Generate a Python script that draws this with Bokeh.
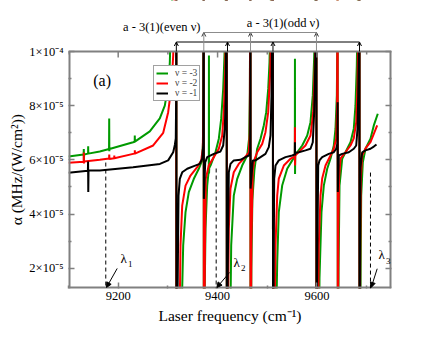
from bokeh.plotting import figure
from bokeh.models import (Range1d, FixedTicker, LinearAxis, Legend, LegendItem,
                          Label, Arrow, OpenHead, NormalHead)
from bokeh.embed import file_html
from bokeh.resources import INLINE

FONT = "Liberation Serif"

# ---- data: (laser frequency cm^-1, alpha in units of 1e-5 MHz/(W/cm^2)) ----
# values of +15 / -5 stand for the off-scale branches at each resonance
green_pts = [(9100, 6.12), (9130.5, 6.2), (9130.8, 6.4), (9131.1, 5.98), (9131.4, 6.2),
             (9139.4, 6.23), (9139.6, 6.5), (9139.8, 6.23), (9163, 6.31),
             (9181.6, 6.4), (9181.9, 7.53), (9182.2, 6.32), (9182.5, 6.4),
             (9230, 6.65), (9233.2, 6.67), (9233.4, 6.9), (9233.6, 6.67),
             (9263.6, 7.05), (9283.7, 7.53), (9293.8, 8.0), (9300.6, 8.74), (9303.9, 9.6),
             (9306, 11), (9316.9, 15), (9317.1, -5), (9326, -1), (9330.8, 2.84),
             (9335.5, 4.07), (9342.1, 4.81), (9352.2, 5.3), (9362.2, 5.67), (9369, 5.98),
             (9371, 6.8), (9372.1, 15), (9372.3, -5), (9374, 1.0), (9375.7, 3.46),
             (9379.1, 5.05), (9382.4, 5.65), (9382.6, 9.85), (9382.8, 5.5), (9383.2, 5.7),
             (9385.8, 5.79), (9395.8, 6.28), (9402.5, 6.78), (9407.3, 7.52), (9411.3, 8.62),
             (9413.9, 9.85), (9415.5, 11), (9418.4, 15), (9418.7, -5), (9425, -1),
             (9427.4, 2.84), (9432.6, 4.68), (9439.5, 5.3), (9449.5, 5.79), (9459.6, 6.16),
             (9463.5, 6.8), (9465, 8.5), (9466.1, 15), (9466.3, -5), (9468, 2.0),
             (9470, 4.5), (9474, 5.6), (9479.7, 6.41), (9486.4, 6.78), (9493, 7.27),
             (9497.9, 7.76), (9501.9, 8.62), (9504.5, 9.6), (9506, 11), (9511.3, 15),
             (9511.6, -5), (9517, -1), (9520, 2.22), (9523.2, 4.07), (9530, 5.05),
             (9540.1, 5.67), (9550.2, 5.98), (9555.5, 6.15), (9555.7, 9.73), (9555.9, 5.48),
             (9556.3, 6.2), (9560.2, 6.28), (9570.3, 6.53), (9580.4, 6.9), (9587, 7.39),
             (9591.6, 8.38), (9594.4, 9.8), (9596, 11), (9598.9, 15), (9599.1, -5),
             (9604, -1), (9605.1, 1.62), (9609.1, 4.07), (9613.8, 5.05), (9620.6, 5.67),
             (9627.2, 6.04), (9633.9, 6.53), (9637.3, 7.15), (9640, 8.38), (9641, 10.5),
             (9641.7, 15), (9641.9, -5), (9643.5, 2.0), (9645.4, 5.05), (9650.8, 6.04),
             (9660.9, 6.41), (9667.5, 6.65), (9674.1, 7.15), (9677.5, 8.0), (9680.2, 9.48),
             (9681.5, 11), (9685.5, 15), (9685.7, -5), (9688, 2.0), (9689, 4.68),
             (9692.3, 5.91), (9697.7, 6.41), (9707.7, 6.78), (9714.4, 7.27), (9722.4, 7.7)]

red_pts = [(9100, 5.89), (9130.5, 5.93), (9130.8, 6.27), (9131.1, 5.87), (9131.4, 5.94),
           (9163, 6.0), (9181.7, 6.05), (9182.0, 6.2), (9182.3, 6.03), (9192, 6.06),
           (9192.2, 6.16), (9192.4, 6.06), (9230, 6.22), (9233.3, 6.23), (9233.5, 6.35),
           (9233.7, 6.23), (9270.4, 6.53), (9290.6, 7.0), (9300.6, 7.76), (9307.3, 8.74),
           (9310.7, 9.85), (9313.5, 12), (9316.9, 15), (9317.1, -5), (9324, 0.8),
           (9325.4, 2.84), (9328.8, 4.31), (9335.5, 5.05), (9345.5, 5.42), (9359, 5.73),
           (9367, 5.98), (9370.3, 6.41), (9371.5, 8.0), (9372.1, 15), (9372.3, -5),
           (9374.5, 2.5), (9376.3, 5.3), (9382.3, 5.79), (9392.4, 6.1), (9402.5, 6.41),
           (9409.3, 6.9), (9412.5, 7.76), (9415.3, 9.24), (9417, 12), (9418.4, 15),
           (9418.7, -5), (9421, 0.5), (9422.6, 3.46), (9426, 4.94), (9432.6, 5.54),
           (9442.6, 5.85), (9452.8, 6.04), (9462.8, 6.28), (9464.8, 7.0), (9466.1, 15),
           (9466.3, -5), (9468, 3.0), (9470.9, 5.6), (9474, 6.0), (9479.7, 6.28),
           (9489.8, 6.59), (9496.4, 7.02), (9501.9, 7.76), (9505.9, 9.24), (9507.5, 11),
           (9511.3, 15), (9511.6, -5), (9514, -1), (9516.6, 2.84), (9520, 4.68),
           (9523.2, 5.31), (9533.3, 5.79), (9546.7, 6.04), (9555.5, 6.12), (9555.7, 7.2),
           (9555.9, 5.79), (9556.3, 6.16), (9566.8, 6.35), (9576.9, 6.53), (9587, 6.9),
           (9592.5, 7.76), (9595.7, 9.5), (9597.3, 11), (9598.9, 15), (9599.1, -5),
           (9602, -1), (9603.7, 2.84), (9607.1, 4.68), (9610.5, 5.31), (9617.2, 5.79),
           (9627.2, 6.16), (9633.9, 6.41), (9638.7, 6.79), (9640.5, 8.0), (9641.7, 15),
           (9641.9, -5), (9643, 3.5), (9644.5, 5.31), (9647.4, 6.05), (9657.4, 6.28),
           (9667.5, 6.53), (9674.1, 6.79), (9679, 7.39), (9681.6, 8.74), (9683.2, 11),
           (9685.5, 15), (9685.7, -5), (9687, 2.0), (9688.3, 5.31), (9691, 6.16),
           (9697.7, 6.42), (9707.7, 6.65), (9714.4, 6.96), (9721.2, 7.27)]

black_pts = [(9100, 5.52), (9139.0, 5.60), (9139.4, 5.94), (9139.8, 4.81), (9140.3, 5.61),
             (9163, 5.61), (9230, 5.73), (9284, 5.85), (9300.6, 5.98), (9310.7, 6.28),
             (9314, 6.55), (9315.9, 6.79), (9316.8, 8.5), (9317.1, 15), (9317.3, -5),
             (9319.5, 1.0), (9321.4, 4.68), (9324, 5.3), (9328.8, 5.54), (9338.9, 5.67),
             (9352.2, 5.77), (9364.2, 5.85), (9369, 6.04), (9371.1, 6.53), (9372.2, 15),
             (9372.4, 4.56), (9375.1, 5.91), (9379.1, 6.1), (9392.4, 6.22), (9405.9, 6.31),
             (9411.3, 6.53), (9414.5, 7.15), (9416.5, 8.38), (9418.3, 15), (9418.6, -5),
             (9420.5, 2.0), (9422.6, 5.54), (9426, 5.85), (9432.6, 5.98), (9446, 6.0),
             (9456, 6.1), (9463, 6.16), (9465.6, 6.3), (9466.2, 15), (9466.4, 4.94),
             (9470.9, 5.98), (9476.3, 5.98), (9486.4, 6.1), (9496.4, 6.22), (9503.1, 6.47),
             (9506.5, 6.9), (9508.5, 8.38), (9511.3, 15), (9511.6, -5), (9512.8, 1.5),
             (9513.9, 5.31), (9516.6, 5.79), (9523.2, 5.98), (9536.7, 6.1), (9550.2, 6.16),
             (9555.5, 6.2), (9555.7, 6.65), (9555.9, 6.16), (9556.3, 6.25), (9563.4, 6.28),
             (9576.9, 6.35), (9587, 6.41), (9591.6, 6.65), (9594.4, 7.76), (9596.5, 9.5),
             (9598.9, 15), (9599.1, -5), (9600.5, 2.0), (9602.5, 5.79), (9605.1, 5.98),
             (9610.5, 6.1), (9623.8, 6.22), (9633.9, 6.28), (9638.7, 6.41), (9641.2, 6.6),
             (9641.6, 8.13), (9642.0, 4.81), (9644, 6.16), (9650.8, 6.22), (9664.1, 6.28),
             (9674.1, 6.41), (9679, 6.53), (9681.6, 7.15), (9683, 8.38), (9684.5, 10.5),
             (9685.5, 15), (9685.7, -5), (9686.5, 2.5), (9687.6, 5.7), (9691, 6.28),
             (9697.7, 6.35), (9707.7, 6.41), (9714.4, 6.49), (9719.8, 6.57)]

series_labels = ["\u03bd = -3", "\u03bd = -2", "\u03bd = -1"]
series_colors = ["#009a00", "#ff0000", "#000000"]

# resonance markers at the top: a - 3(1) even v / odd v
even_v_lines = [9317, 9420, 9511.5, 9685.6]
odd_v_lines = [9372.3, 9466.3, 9599]
even_v_label = "a - 3(1)(even \u03bd)"
odd_v_label = "a - 3(1)(odd \u03bd)"

# lambda markers (dashed lines)
lam_freq = [9175, 9397.2, 9707.7]
lam_top = [5.9, 5.68, 5.53]
lam_names = ["1", "2", "3"]

x_major = [9200, 9400, 9600]
x_minor = [9100, 9300, 9500, 9700]
y_major = [2, 4, 6, 8, 10]
y_minor = [3, 5, 7, 9]
y_tick_labels = ["2\u00d710\u207b\u2075", "4\u00d710\u207b\u2075", "6\u00d710\u207b\u2075",
                 "8\u00d710\u207b\u2075", "1\u00d710\u207b\u2074"]

X0, X1 = 9100, 9750
Y0, Y1 = 1.25, 10

W, H = 424, 332
LEFT, RIGHT, BOTTOM = 68, 33, 44
AXES_H = 237            # height of the boxed axes area in px
TOP_STRIP = 51          # px above the box used for the resonance brackets
PX = (Y1 - Y0) / AXES_H  # data units per px
Y_TOP = Y1 + TOP_STRIP * PX
EDGE = "#808080"

p = figure(width=W, height=H, output_backend="svg", toolbar_location=None,
           x_range=Range1d(X0, X1), y_range=Range1d(Y0, Y_TOP),
           min_border_left=LEFT, min_border_right=RIGHT, min_border_top=0, min_border_bottom=BOTTOM)
p.grid.visible = False
p.outline_line_color = None
p.background_fill_color = "white"
p.border_fill_color = "white"

renderers = []
for pts, col in zip([green_pts, red_pts, black_pts], series_colors):
    xs = [a for a, b in pts]
    ys = [b for a, b in pts]
    r = p.line(xs, ys, line_color=col, line_width=2)
    renderers.append(r)

# white strip above the boxed area (hides off-scale branches), then the box edges
p.quad(left=[X0], right=[X1], bottom=[Y1], top=[Y_TOP], fill_color="white", line_color=None)
p.segment(x0=[X0, X0, X1, X0], y0=[Y0, Y0, Y0, Y1], x1=[X1, X0, X1, X1], y1=[Y0, Y1, Y1, Y1],
          line_color=EDGE, line_width=[4, 4, 4, 2])


def style_axis(ax, show_labels):
    ax.axis_line_color = None
    ax.major_tick_in = 6
    ax.major_tick_out = 0
    ax.minor_tick_in = 3
    ax.minor_tick_out = 0
    ax.major_tick_line_color = EDGE
    ax.minor_tick_line_color = EDGE
    ax.major_tick_line_width = 1.5
    ax.minor_tick_line_width = 1.5
    ax.major_label_text_font = FONT
    ax.major_label_text_font_size = "12.5px"
    ax.major_label_text_color = "black"
    ax.axis_label_text_font = FONT
    ax.axis_label_text_font_size = "15.5px"
    ax.axis_label_text_font_style = "normal"
    ax.axis_label_text_color = "black"
    if not show_labels:
        ax.major_label_text_font_size = "0px"
        ax.major_label_text_color = None
        ax.major_label_standoff = 0


xt = FixedTicker(ticks=x_major, minor_ticks=x_minor)
yt = FixedTicker(ticks=y_major, minor_ticks=y_minor)

bx = p.xaxis[0]
bx.ticker = xt
style_axis(bx, True)
bx.major_label_standoff = 3
bx.axis_label = "Laser frequency (cm\u207b\u00b9)"
bx.axis_label_standoff = 4

ly = p.yaxis[0]
ly.ticker = yt
style_axis(ly, True)
ly.major_label_overrides = {v: s for v, s in zip(y_major, y_tick_labels)}
ly.major_label_standoff = 5
# trailing no-break spaces keep the label centred on the boxed area, not on the full frame
ly.axis_label = "\u03b1 (MHz/(W/cm\u00b2))" + "\u00a0" * 13
ly.axis_label_standoff = 1

right_ax = LinearAxis(ticker=yt)
style_axis(right_ax, False)
p.add_layout(right_ax, "right")

# inward ticks along the top edge of the box (same tick positions as the bottom axis)
p.segment(x0=x_major, y0=[Y1] * len(x_major), x1=x_major, y1=[Y1 - 6 * PX] * len(x_major),
          line_color=EDGE, line_width=1.5)
p.segment(x0=x_minor, y0=[Y1] * len(x_minor), x1=x_minor, y1=[Y1 - 3 * PX] * len(x_minor),
          line_color=EDGE, line_width=1.5)

# legend
legend = Legend(items=[LegendItem(label=l, renderers=[r]) for l, r in zip(series_labels, renderers)],
                location=(85, 187))
legend.label_text_font = FONT
legend.label_text_font_size = "9.5px"
legend.label_text_line_height = 1.0
legend.glyph_width = 12
legend.glyph_height = 8
legend.label_height = 8
legend.spacing = -1
legend.padding = 2
legend.margin = 0
legend.label_standoff = 7
legend.border_line_color = "#444444"
legend.border_line_width = 1
legend.background_fill_alpha = 1
p.add_layout(legend)

# panel label
p.add_layout(Label(x=9149.7, y=8.93, text="(a)", text_font=FONT, text_font_size="16px",
                   text_baseline="middle", text_color="black"))

# lambda markers
p.segment(x0=lam_freq, y0=lam_top, x1=lam_freq, y1=[Y0] * len(lam_freq),
          line_color="black", line_width=1, line_dash="4 3")
lam_label_pos = [(9204.6, 2.36), (9432, 2.21), (9723.8, 2.5)]
lam_arrow_start = [(9198, 1.99), (9424, 1.84), (9721.2, 1.98)]
for f, (lx, lyy), (sx, sy), nm in zip(lam_freq, lam_label_pos, lam_arrow_start, lam_names):
    p.add_layout(Arrow(x_start=sx, y_start=sy, x_end=f + 1.5, y_end=1.29, line_color="black", line_width=1,
                       end=NormalHead(size=5, fill_color="black", line_color="black")))
    p.add_layout(Label(x=lx, y=lyy, text="\u03bb", text_font=FONT, text_font_size="13px",
                       text_baseline="middle", text_color="black"))
    p.add_layout(Label(x=lx + 15, y=lyy - 0.22, text=nm, text_font=FONT, text_font_size="9px",
                       text_baseline="middle", text_color="black"))

# resonance brackets above the box
EVEN_Y = Y1 + 9.5 * PX
ODD_Y = Y1 + 19 * PX
for f in even_v_lines:
    p.add_layout(Arrow(x_start=f, y_start=Y1, x_end=f, y_end=EVEN_Y, line_color="black", line_width=1,
                       end=OpenHead(size=4, line_color="black", line_width=1)))
p.add_layout(Arrow(x_start=even_v_lines[0], y_start=EVEN_Y, x_end=even_v_lines[-1], y_end=EVEN_Y,
                   line_color="black", line_width=1, end=None))
for f in odd_v_lines:
    p.add_layout(Arrow(x_start=f, y_start=Y1, x_end=f, y_end=ODD_Y, line_color="#8c8c8c", line_width=1,
                       end=OpenHead(size=4, line_color="#333333", line_width=1)))
p.add_layout(Arrow(x_start=odd_v_lines[0], y_start=ODD_Y, x_end=odd_v_lines[-1], y_end=ODD_Y,
                   line_color="#8c8c8c", line_width=1, end=None))
p.add_layout(Label(x=9365.6, y=Y1 + 25 * PX, text=even_v_label, text_font=FONT, text_font_size="12.5px",
                   text_align="right", text_baseline="middle", text_color="black"))
p.add_layout(Label(x=9531.7, y=Y1 + 29 * PX, text=odd_v_label, text_font=FONT, text_font_size="12.5px",
                   text_align="center", text_baseline="middle", text_color="black"))

open("out.html", "w").write(file_html(p, INLINE))
